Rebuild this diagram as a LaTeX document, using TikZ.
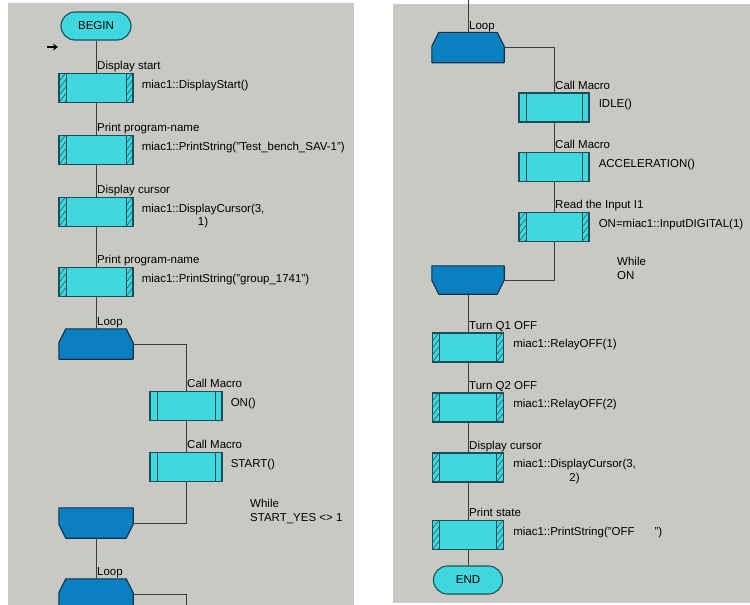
\documentclass[tikz,border=0pt]{standalone}
\usepackage{fontspec}
\setmainfont{Liberation Sans}
\usetikzlibrary{positioning,arrows.meta}
\definecolor{panelgray}{RGB}{200,200,196}
\definecolor{stepcyan}{RGB}{62,216,222}
\definecolor{loopblue}{RGB}{10,128,192}
\definecolor{edgeteal}{RGB}{28,78,88}
\definecolor{edgenavy}{RGB}{20,48,72}
\definecolor{linegray}{RGB}{60,60,60}
\tikzset{gbox/.style={
    rectangle,
    draw=edgeteal,
    line width=1.1pt,
    fill=stepcyan,
    inner sep=0pt,
    minimum height=29pt,
    minimum width=74pt
  },
  tbox/.style={gbox,rounded corners=14pt,minimum width=70pt,minimum height=28pt,
    font=\fontsize{11.5}{13}\selectfont},
  mbox/.style={gbox,path picture={
      \draw[edgeteal,line width=1pt]
        ([xshift=7pt]path picture bounding box.north west) -- ([xshift=7pt]path picture bounding box.south west)
        ([xshift=-7pt]path picture bounding box.north east) -- ([xshift=-7pt]path picture bounding box.south east);}},
  hbox/.style={gbox,path picture={
      \draw[edgeteal,line width=1pt]
        ([xshift=7pt]path picture bounding box.north west) -- ([xshift=7pt]path picture bounding box.south west)
        ([xshift=-7pt]path picture bounding box.north east) -- ([xshift=-7pt]path picture bounding box.south east);
      \foreach \k in {-1,...,4}
        \draw[edgeteal,line width=.5pt]
          ([yshift=\k*7pt]path picture bounding box.south west) -- ++(7pt,9pt)
          ([xshift=-7pt,yshift=\k*7pt]path picture bounding box.south east) -- ++(7pt,9pt);}},
  lbox/.style={rectangle,inner sep=0pt,minimum height=30pt,minimum width=74pt},
  loopfill/.style={draw=edgenavy,fill=loopblue,line width=1.1pt,line join=round},
  ttl/.style={inner sep=1pt,text depth=2pt,font=\fontsize{11.5}{13}\selectfont},
  cmd/.style={inner sep=1pt,align=center,font=\fontsize{11.5}{13.5}\selectfont},
  whiletxt/.style={inner sep=1pt,align=left,anchor=north west,font=\fontsize{11.5}{14}\selectfont},
  wire/.style={draw=linegray,line width=.9pt},
}
\newcommand{\loophead}[1]{\filldraw[loopfill] (#1.south west) -- ([yshift=-14pt]#1.north west)
  -- ([xshift=7pt]#1.north west) -- ([xshift=-7pt]#1.north east) -- ([yshift=-14pt]#1.north east)
  -- (#1.south east) -- cycle;}
\newcommand{\looptail}[1]{\filldraw[loopfill] (#1.north west) -- ([yshift=14pt]#1.south west)
  -- ([xshift=7pt]#1.south west) -- ([xshift=-7pt]#1.south east) -- ([yshift=14pt]#1.south east)
  -- (#1.north east) -- cycle;}
\begin{document}
\begin{tikzpicture}[x=1pt,y=-1pt]
  \useasboundingbox (0,0) rectangle (750,605);
  \fill[panelgray] (8,3) rectangle (354,605);
  \fill[panelgray] (393,4) rectangle (750,603);

  \node [tbox] (begin) at (96,26) {BEGIN};
  \node [hbox] (dstart) at (96,88) {};
  \node [hbox] (pname) at (96,150) {};
  \node [hbox] (dcursor) at (96,212) {};
  \node [hbox] (pgroup) at (96,282) {};
  \node [lbox] (loopa) at (96,344) {};
  \node [mbox,minimum width=72pt] (callon) at (186,406) {};
  \node [mbox,minimum width=72pt] (callstart) at (186,467) {};
  \node [lbox] (whilea) at (96,523) {};
  \node [lbox] (loopb) at (96,594) {};
  \coordinate (cuta) at (186,612);
  \coordinate (mark) at (47,47);
  \loophead{loopa}
  \looptail{whilea}
  \loophead{loopb}

  \node [ttl,above right=0pt of dstart.north] (tdstart) {Display start};
  \node [ttl,above right=0pt of pname.north] (tpname) {Print program-name};
  \node [ttl,above right=0pt of dcursor.north] (tdcursor) {Display cursor};
  \node [ttl,above right=0pt of pgroup.north] (tpgroup) {Print program-name};
  \node [ttl,above right=0pt of loopa.north] (tloopa) {Loop};
  \node [ttl,above right=0pt of callon.north] (tcallon) {Call Macro};
  \node [ttl,above right=0pt of callstart.north] (tcallstart) {Call Macro};
  \node [ttl,above right=0pt of loopb.north] (tloopb) {Loop};

  \node [cmd,below right=6pt and 7pt of dstart.north east] (cdstart) {miac1::DisplayStart()};
  \node [cmd,below right=6pt and 7pt of pname.north east] (cpname) {miac1::PrintString("Test\_bench\_SAV-1")};
  \node [cmd,below right=6pt and 7pt of dcursor.north east] (cdcursor) {miac1::DisplayCursor(3,\\1)};
  \node [cmd,below right=6pt and 7pt of pgroup.north east] (cpgroup) {miac1::PrintString("group\_1741")};
  \node [cmd,below right=6pt and 7pt of callon.north east] (con) {ON()};
  \node [cmd,below right=6pt and 7pt of callstart.north east] (cstart) {START()};
  \node [whiletxt] (wa) at (249,498) {While\\START\_YES <> 1};

  \draw[wire] (begin) -- (dstart);
  \draw[wire] (dstart) -- (pname);
  \draw[wire] (pname) -- (dcursor);
  \draw[wire] (dcursor) -- (pgroup);
  \draw[wire] (pgroup) -- (loopa);
  \draw[wire] (loopa.east) -| (callon.north);
  \draw[wire] (callon) -- (callstart);
  \draw[wire] (callstart.south) |- (whilea.east);
  \draw[wire] (whilea) -- (loopb);
  \draw[wire] (loopb.east) -| (cuta);
  \draw[-{Stealth[length=5pt,width=7pt]},line width=1.8pt] (mark) -- ++(11,0);

  \coordinate (cutb) at (468,0);
  \node [lbox,minimum width=72pt] (loopc) at (468,47.5) {};
  \node [mbox,minimum width=70pt] (callidle) at (554,107.5) {};
  \node [mbox,minimum width=70pt] (callaccel) at (554,167) {};
  \node [hbox,minimum width=70pt] (readin) at (554,227) {};
  \node [lbox,minimum width=72pt,minimum height=28pt] (whilec) at (468,280) {};
  \node [hbox,minimum width=71pt] (q1off) at (468,347.5) {};
  \node [hbox,minimum width=71pt] (q2off) at (468,407.5) {};
  \node [hbox,minimum width=71pt] (dcursorb) at (468,467.5) {};
  \node [hbox,minimum width=71pt] (pstate) at (468,535) {};
  \node [tbox,minimum width=69pt] (end) at (468,580) {END};
  \loophead{loopc}
  \looptail{whilec}

  \node [ttl,above right=0pt of loopc.north] (tloopc) {Loop};
  \node [ttl,above right=0pt of callidle.north] (tcallidle) {Call Macro};
  \node [ttl,above right=0pt of callaccel.north] (tcallaccel) {Call Macro};
  \node [ttl,above right=0pt of readin.north] (treadin) {Read the Input I1};
  \node [ttl,above right=0pt of q1off.north] (tq1off) {Turn Q1 OFF};
  \node [ttl,above right=0pt of q2off.north] (tq2off) {Turn Q2 OFF};
  \node [ttl,above right=0pt of dcursorb.north] (tdcursorb) {Display cursor};
  \node [ttl,above right=0pt of pstate.north] (tpstate) {Print state};

  \node [cmd,below right=6pt and 8pt of callidle.north east] (cidle) {IDLE()};
  \node [cmd,below right=6pt and 8pt of callaccel.north east] (caccel) {ACCELERATION()};
  \node [cmd,below right=6pt and 8pt of readin.north east] (creadin) {ON=miac1::InputDIGITAL(1)};
  \node [cmd,below right=6pt and 8pt of q1off.north east] (cq1off) {miac1::RelayOFF(1)};
  \node [cmd,below right=6pt and 8pt of q2off.north east] (cq2off) {miac1::RelayOFF(2)};
  \node [cmd,below right=6pt and 8pt of dcursorb.north east] (cdcursorb) {miac1::DisplayCursor(3,\\2)};
  \node [cmd,below right=6pt and 8pt of pstate.north east] (cpstate) {miac1::PrintString("OFF\hspace{20pt}")};
  \node [whiletxt] (wc) at (616,256) {While\\ON};

  \draw[wire] (cutb) -- (loopc);
  \draw[wire] (loopc.east) -| (callidle.north);
  \draw[wire] (callidle) -- (callaccel);
  \draw[wire] (callaccel) -- (readin);
  \draw[wire] (readin.south) |- (whilec.east);
  \draw[wire] (whilec) -- (q1off);
  \draw[wire] (q1off) -- (q2off);
  \draw[wire] (q2off) -- (dcursorb);
  \draw[wire] (dcursorb) -- (pstate);
  \draw[wire] (pstate) -- (end);
\end{tikzpicture}
\end{document}
